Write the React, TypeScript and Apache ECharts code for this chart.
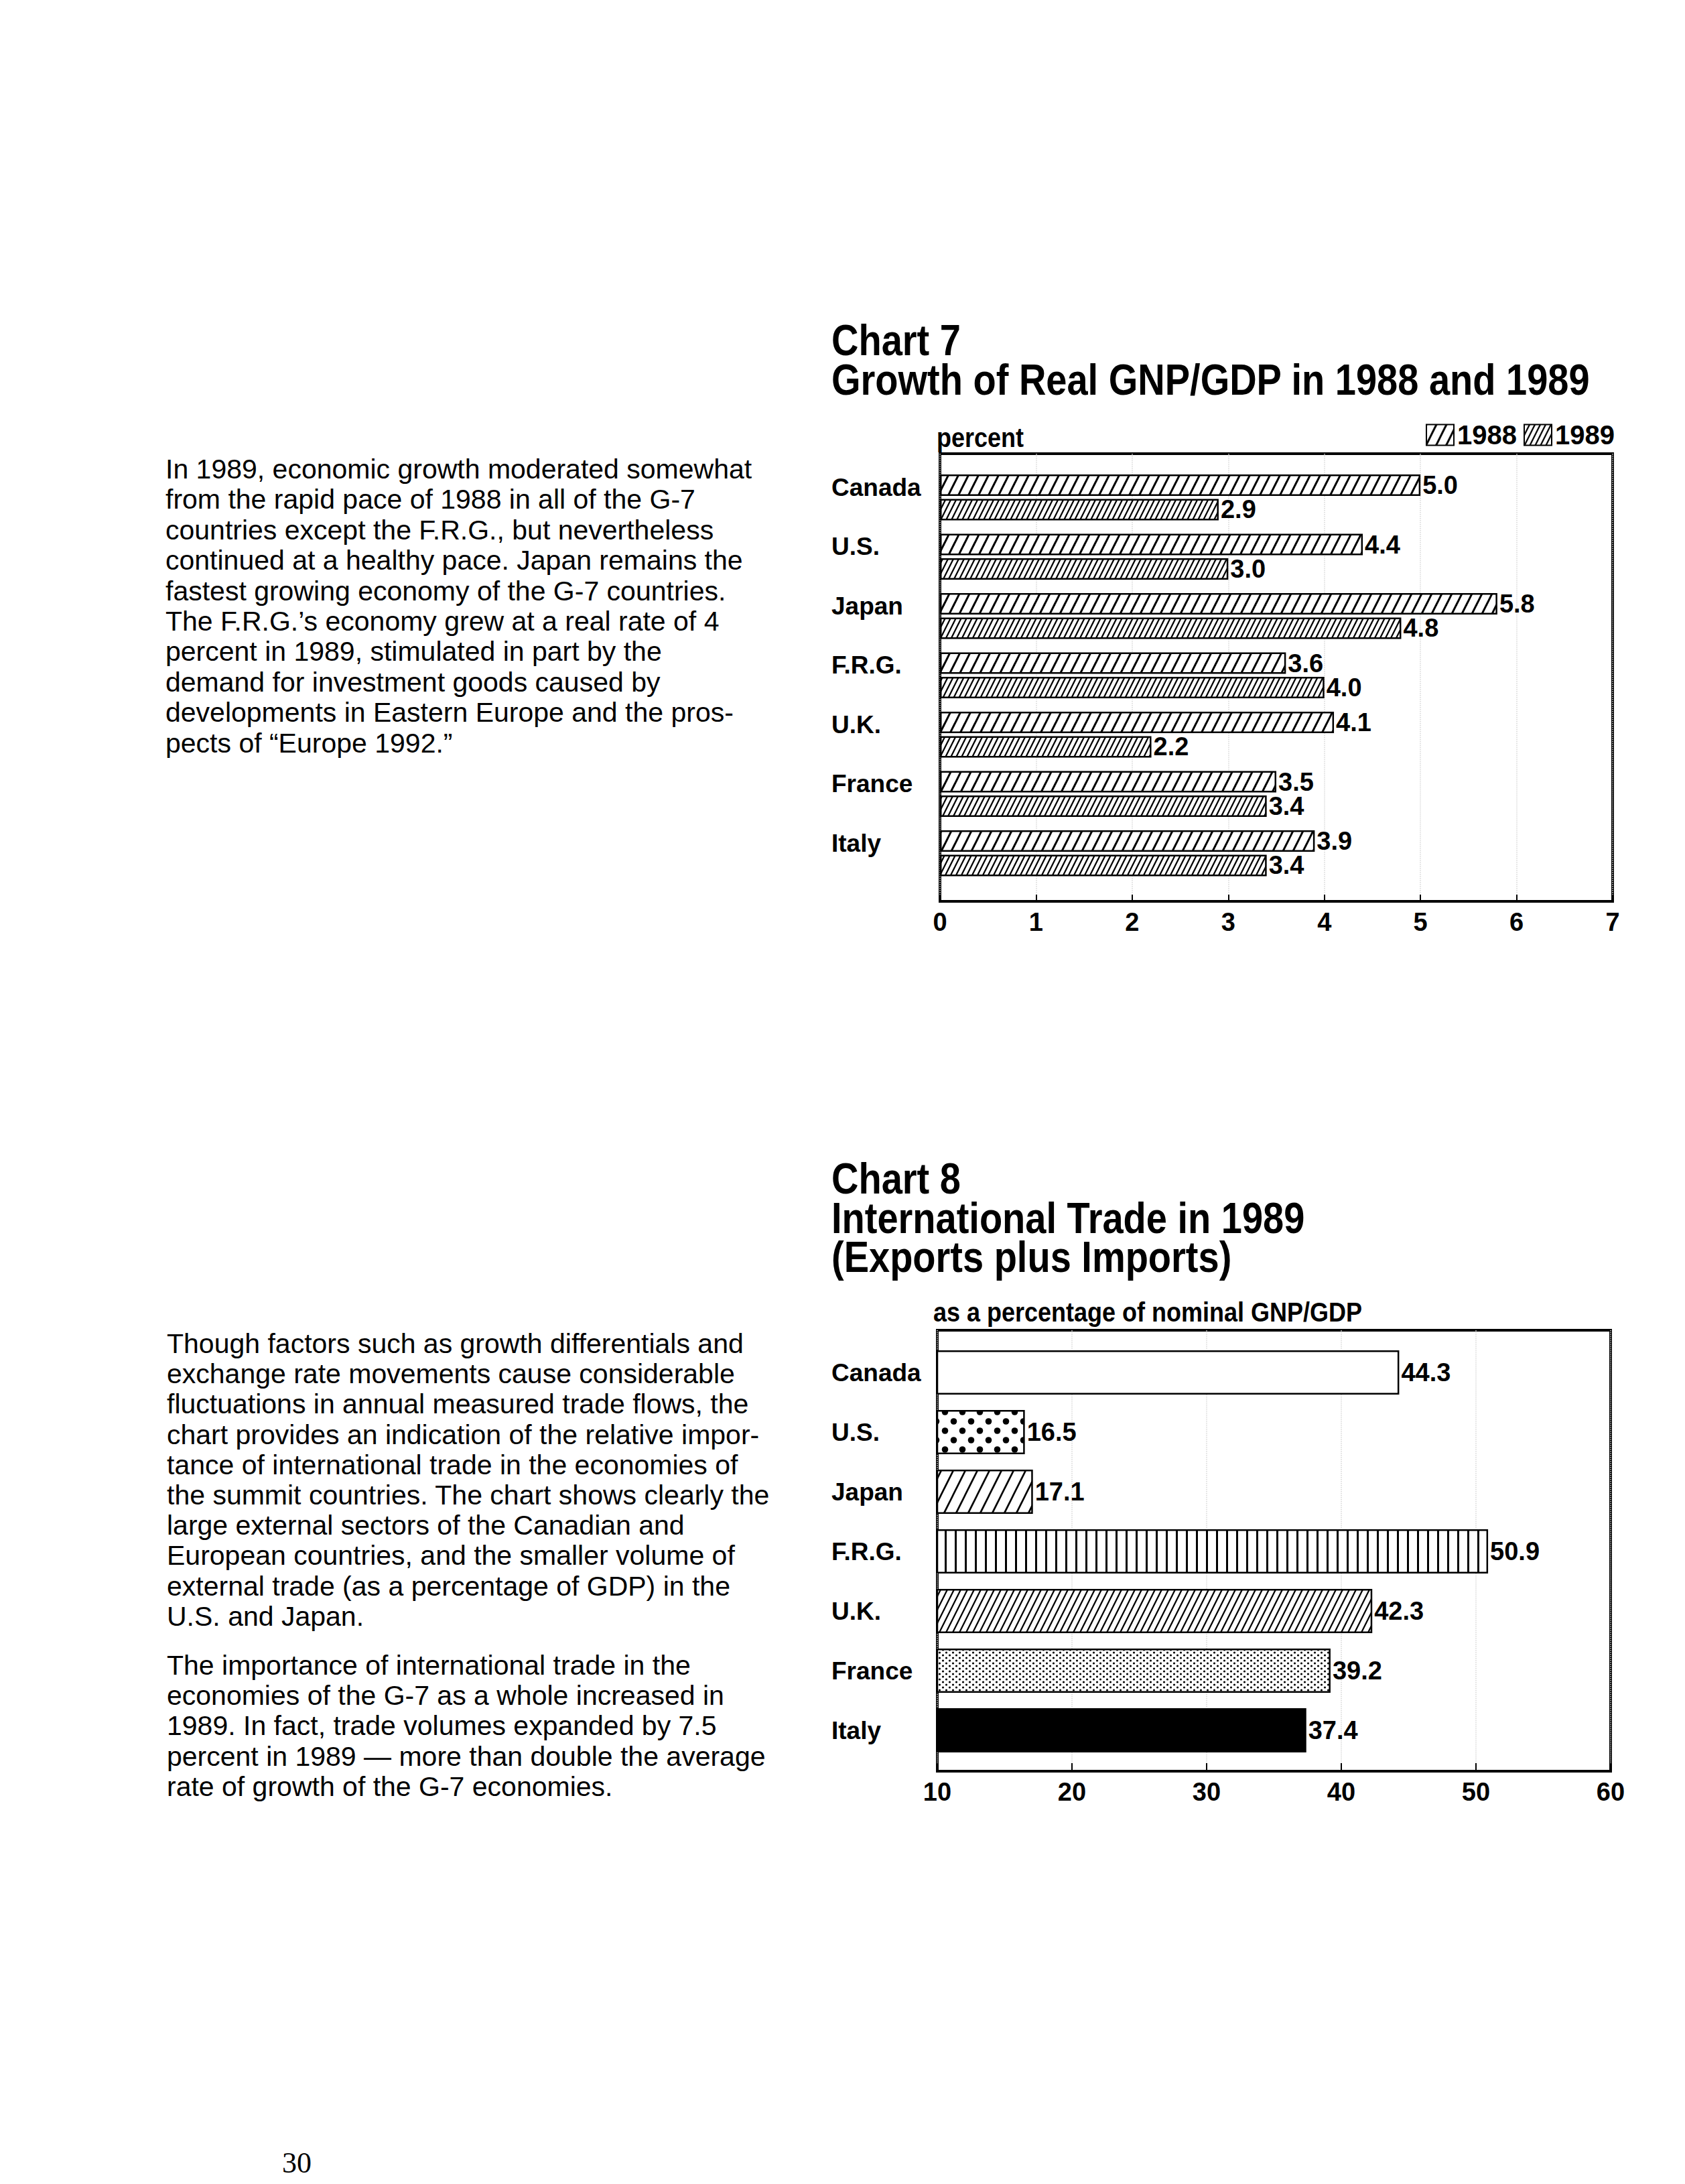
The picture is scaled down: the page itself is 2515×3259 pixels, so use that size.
import React, { useEffect, useRef } from 'react';
import * as echarts from 'echarts';

// ---------- data ----------
const countries = ['Canada', 'U.S.', 'Japan', 'F.R.G.', 'U.K.', 'France', 'Italy'];
const growth1988 = [5.0, 4.4, 5.8, 3.6, 4.1, 3.5, 3.9];
const growth1989 = [2.9, 3.0, 4.8, 4.0, 2.2, 3.4, 3.4];
const growthAxis = [0, 7, 1]; // min, max, interval
const tradeShare = [44.3, 16.5, 17.1, 50.9, 42.3, 39.2, 37.4];
const tradeAxis = [10, 60, 10];
const legendNames = ['1988', '1989'];

const para1 = [
  'In 1989, economic growth moderated somewhat',
  'from the rapid pace of 1988 in all of the G-7',
  'countries except the F.R.G., but nevertheless',
  'continued at a healthy pace. Japan remains the',
  'fastest growing economy of the G-7 countries.',
  'The F.R.G.\u2019s economy grew at a real rate of 4',
  'percent in 1989, stimulated in part by the',
  'demand for investment goods caused by',
  'developments in Eastern Europe and the pros-',
  'pects of \u201CEurope 1992.\u201D',
];
const para2 = [
  'Though factors such as growth differentials and',
  'exchange rate movements cause considerable',
  'fluctuations in annual measured trade flows, the',
  'chart provides an indication of the relative impor-',
  'tance of international trade in the economies of',
  'the summit countries. The chart shows clearly the',
  'large external sectors of the Canadian and',
  'European countries, and the smaller volume of',
  'external trade (as a percentage of GDP) in the',
  'U.S. and Japan.',
];
const para3 = [
  'The importance of international trade in the',
  'economies of the G-7 as a whole increased in',
  '1989. In fact, trade volumes expanded by 7.5',
  'percent in 1989 \u2014 more than double the average',
  'rate of growth of the G-7 economies.',
];

const SANS = '"Liberation Sans", Arial, Helvetica, sans-serif';

function makeTile(w: number, h: number, draw: (ctx: CanvasRenderingContext2D, w: number, h: number) => void) {
  const c = document.createElement('canvas');
  c.width = w;
  c.height = h;
  const ctx = c.getContext('2d') as CanvasRenderingContext2D;
  ctx.fillStyle = '#fff';
  ctx.fillRect(0, 0, w, h);
  ctx.fillStyle = '#000';
  ctx.strokeStyle = '#000';
  draw(ctx, w, h);
  return { image: c, repeat: 'repeat', imageWidth: w, imageHeight: h };
}

function diagonal(w: number, lw: number) {
  return makeTile(w, 2 * w, (ctx, ww, h) => {
    ctx.lineWidth = lw;
    for (let k = -1; k <= 1; k++) {
      ctx.beginPath();
      ctx.moveTo(k * ww - ww * 0.5, h + ww);
      ctx.lineTo(k * ww + ww * 1.5, -ww);
      ctx.stroke();
    }
  });
}

function vertical(w: number, lw: number) {
  return makeTile(w, 4, (ctx, ww, h) => {
    ctx.fillRect(0, 0, lw, h);
  });
}

function dots(w: number, h: number, r: number) {
  return makeTile(w, h, (ctx, ww, hh) => {
    const pts = [
      [ww * 0.25, hh * 0.25],
      [ww * 0.75, hh * 0.75],
    ];
    pts.forEach(([x, y]) => {
      ctx.beginPath();
      ctx.arc(x, y, r, 0, Math.PI * 2);
      ctx.fill();
    });
  });
}

function buildOption() {
  const sparse = diagonal(15, 3);
  const dense = diagonal(8, 2.2);
  const tradePatterns: any[] = [
    '#ffffff',
    dots(26, 28, 4.8),
    diagonal(18, 2.6),
    vertical(15, 3),
    diagonal(10, 2.2),
    dots(10, 8, 1.6),
    '#000000',
  ];

  const tickLabel = { fontSize: 38, fontWeight: 'bold', color: '#000', fontFamily: SANS };
  const catLabel = { fontSize: 37, fontWeight: 'bold', color: '#000', fontFamily: SANS };
  const valueLabel = {
    show: true,
    position: 'right',
    distance: 3,
    fontSize: 38,
    fontWeight: 'bold',
    color: '#000',
    fontFamily: SANS,
    formatter: (p: any) => Number(p.value).toFixed(1),
  };

  const graphic: any[] = [];
  const txt = (text: string, x: number, y: number, size: number, weight = 'normal', sx = 1) => {
    graphic.push({
      type: 'text',
      x,
      y,
      scaleX: sx,
      style: { text, fontSize: size, fontFamily: SANS, fontWeight: weight, fill: '#000', verticalAlign: 'middle', align: 'left' },
    });
  };
  para1.forEach((l, i) => txt(l, 247, 700 + i * 45.4, 41));
  para2.forEach((l, i) => txt(l, 249, 2005 + i * 45.2, 41));
  para3.forEach((l, i) => txt(l, 249, 2485 + i * 45.2, 41));
  txt('Chart 7', 1241, 508, 64, 'bold', 0.875);
  txt('Growth of Real GNP/GDP in 1988 and 1989', 1241, 567, 64, 'bold', 0.875);
  txt('Chart 8', 1241, 1759, 64, 'bold', 0.875);
  txt('International Trade in 1989', 1241, 1818, 64, 'bold', 0.875);
  txt('(Exports plus Imports)', 1241, 1876, 64, 'bold', 0.875);
  txt('percent', 1398, 653, 40, 'bold', 0.9);
  txt('as a percentage of nominal GNP/GDP', 1393, 1958, 40, 'bold', 0.9);
  graphic.push({
    type: 'text',
    x: 443,
    y: 3227,
    style: { text: '30', fontSize: 44, fontFamily: '"Liberation Serif", serif', fill: '#000', verticalAlign: 'middle', align: 'center' },
  });

  return {
    animation: false,
    backgroundColor: '#ffffff',
    textStyle: { fontFamily: SANS, color: '#000' },
    legend: {
      data: legendNames,
      right: 2515 - 2410,
      top: 629,
      padding: 0,
      itemWidth: 41,
      itemHeight: 31,
      itemGap: 10,
      selectedMode: false,
      icon: 'rect',
      textStyle: { fontSize: 40, fontWeight: 'bold', color: '#000', fontFamily: SANS },
    },
    grid: [
      { left: 1403, top: 677, width: 1004, height: 668, show: true, borderColor: '#000', borderWidth: 4, backgroundColor: 'transparent' },
      { left: 1403, top: 698, width: 1004, height: 619.5 },
      { left: 1399, top: 1985, width: 1005, height: 658, show: true, borderColor: '#000', borderWidth: 4, backgroundColor: 'transparent' },
      { left: 1399, top: 2003.5, width: 1005, height: 623 },
    ],
    xAxis: [
      {
        gridIndex: 0,
        type: 'value',
        min: growthAxis[0],
        max: growthAxis[1],
        interval: growthAxis[2],
        axisLine: { show: false },
        axisTick: { show: true, inside: true, length: 10, lineStyle: { color: '#000', width: 2 } },
        axisLabel: { ...tickLabel, margin: 12, showMinLabel: true, showMaxLabel: true },
        splitLine: { show: true, lineStyle: { color: '#d6d6d6', type: 'dotted', width: 1.5 } },
      },
      { gridIndex: 1, type: 'value', min: growthAxis[0], max: growthAxis[1], show: false },
      {
        gridIndex: 2,
        type: 'value',
        min: tradeAxis[0],
        max: tradeAxis[1],
        interval: tradeAxis[2],
        axisLine: { show: false },
        axisTick: { show: true, inside: true, length: 12, lineStyle: { color: '#000', width: 2 } },
        axisLabel: { ...tickLabel, margin: 12, showMinLabel: true, showMaxLabel: true },
        splitLine: { show: true, lineStyle: { color: '#d6d6d6', type: 'dotted', width: 1.5 } },
      },
      { gridIndex: 3, type: 'value', min: tradeAxis[0], max: tradeAxis[1], show: false },
    ],
    yAxis: [
      { gridIndex: 0, type: 'value', show: false, splitLine: { show: false } },
      {
        gridIndex: 1,
        type: 'category',
        data: countries,
        inverse: true,
        axisLine: { show: false },
        axisTick: { show: false },
        splitLine: { show: false },
        axisLabel: { ...catLabel, align: 'left', verticalAlign: 'bottom', lineHeight: 30, margin: 1403 - 1241 },
      },
      { gridIndex: 2, type: 'value', show: false, splitLine: { show: false } },
      {
        gridIndex: 3,
        type: 'category',
        data: countries,
        inverse: true,
        axisLine: { show: false },
        axisTick: { show: false },
        splitLine: { show: false },
        axisLabel: { ...catLabel, align: 'left', margin: 1399 - 1241 },
      },
    ],
    series: [
      {
        name: legendNames[0],
        type: 'bar',
        xAxisIndex: 1,
        yAxisIndex: 1,
        data: growth1988,
        barWidth: 32,
        barGap: '14%',
        itemStyle: { color: sparse, borderColor: '#000', borderWidth: 2.5 },
        label: valueLabel,
      },
      {
        name: legendNames[1],
        type: 'bar',
        xAxisIndex: 1,
        yAxisIndex: 1,
        data: growth1989,
        barWidth: 32,
        barGap: '14%',
        itemStyle: { color: dense, borderColor: '#000', borderWidth: 2.5 },
        label: valueLabel,
      },
      {
        name: 'Trade',
        type: 'bar',
        xAxisIndex: 3,
        yAxisIndex: 3,
        data: tradeShare.map((v, i) => ({ value: v, itemStyle: { color: tradePatterns[i] } })),
        barWidth: 66,
        itemStyle: { borderColor: '#000', borderWidth: 2.5 },
        label: valueLabel,
      },
    ],
    graphic,
  };
}

export default function App() {
  const ref = useRef<HTMLDivElement>(null);
  useEffect(() => {
    if (!ref.current) return;
    const chart = echarts.init(ref.current, undefined, { renderer: 'svg' });
    chart.setOption(buildOption() as any);
    return () => chart.dispose();
  }, []);
  return (
    <div
      ref={ref}
      style={{ position: 'absolute', left: 0, top: 0, width: 2515, height: 3259, background: '#fff' }}
    />
  );
}
